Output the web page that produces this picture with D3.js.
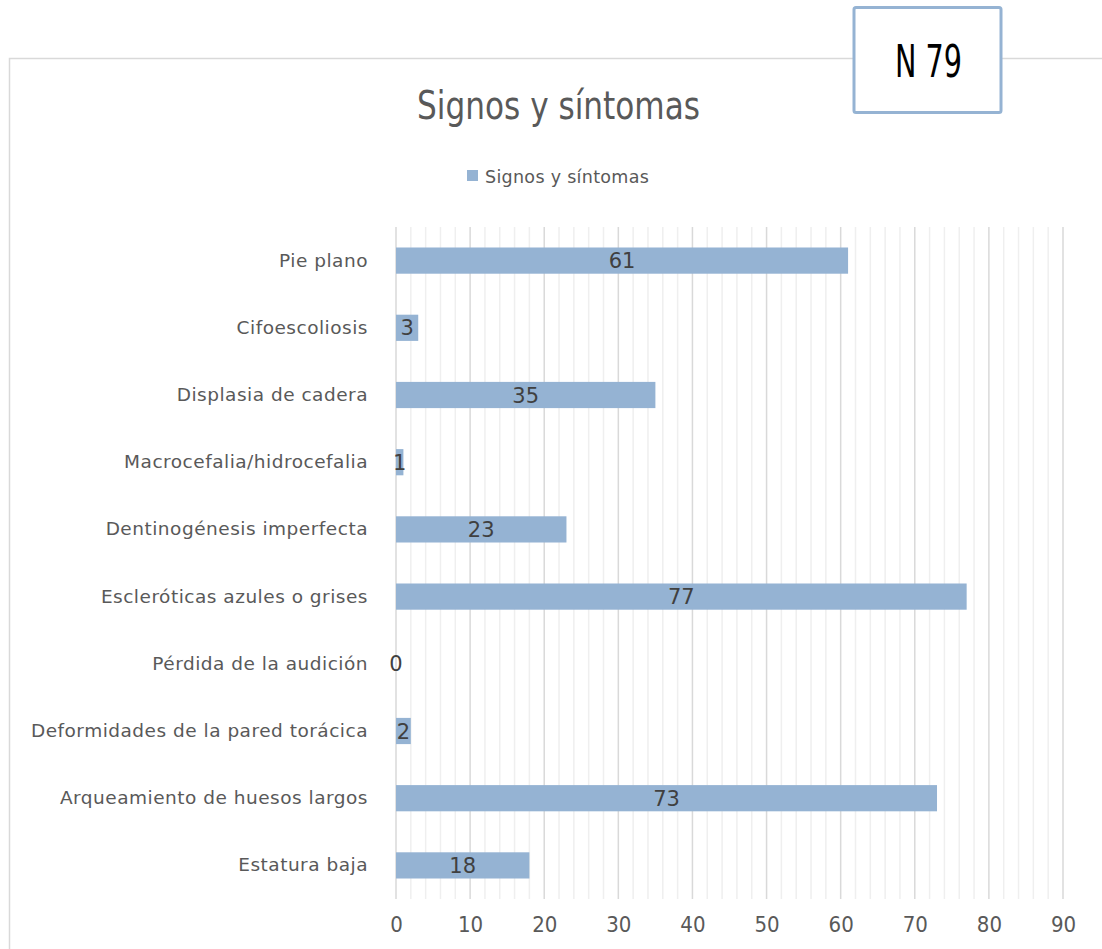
<!DOCTYPE html>
<html>
<head>
<meta charset="utf-8">
<script src="https://cdn.jsdelivr.net/npm/d3@7"></script>
<style>
  html, body { margin: 0; padding: 0; background: #fff; }
  svg { display: block; }
</style>
</head>
<body>
<svg id="chart" width="1102" height="949"></svg>
<script>
// Data: number of patients presenting each sign (N = 79)
const categories = [
  "Pie plano",
  "Cifoescoliosis",
  "Displasia de cadera",
  "Macrocefalia/hidrocefalia",
  "Dentinogénesis imperfecta",
  "Escleróticas azules o grises",
  "Pérdida de la audición",
  "Deformidades de la pared torácica",
  "Arqueamiento de huesos largos",
  "Estatura baja"
];
const values = [61, 3, 35, 1, 23, 77, 0, 2, 73, 18];
const majorTicks = [0, 10, 20, 30, 40, 50, 60, 70, 80, 90];
const minorTicks = d3.range(0, 91, 2).filter(v => v % 10 !== 0);
const seriesName = "Signos y síntomas";
const titleText = "Signos y síntomas";
const sampleText = "N 79";

const svg = d3.select("#chart");
const font = "'DejaVu Sans', sans-serif";
const condensed = "'DejaVu Sans Condensed', 'DejaVu Sans', sans-serif";
const barColor = "#95b3d3";

// chart frame
svg.append("path")
  .attr("d", "M9.5,949 L9.5,58.5 L1102,58.5")
  .attr("fill", "none")
  .attr("stroke", "#d9d9d9")
  .attr("stroke-width", 1.5);

const margin = { left: 396, right: 1063, top: 227, bottom: 899 };

const x = d3.scaleLinear().domain([0, 90]).range([margin.left, margin.right]);
const y = d3.scaleBand().domain(categories).range([margin.top, margin.bottom]).paddingInner(0.61).paddingOuter(0.305);

// minor gridlines
svg.append("g").selectAll("line").data(minorTicks).join("line")
  .attr("x1", d => x(d)).attr("x2", d => x(d))
  .attr("y1", margin.top).attr("y2", margin.bottom)
  .attr("stroke", "#efefef").attr("stroke-width", 1.5);

// major gridlines
svg.append("g").selectAll("line").data(majorTicks).join("line")
  .attr("x1", d => x(d)).attr("x2", d => x(d))
  .attr("y1", margin.top).attr("y2", margin.bottom)
  .attr("stroke", "#d9d9d9").attr("stroke-width", 1.5);

// bars
svg.append("g").selectAll("rect").data(values).join("rect")
  .attr("x", x(0))
  .attr("y", (d, i) => y(categories[i]))
  .attr("width", d => x(d) - x(0))
  .attr("height", y.bandwidth())
  .attr("fill", barColor);

// data labels
svg.append("g").selectAll("text").data(values).join("text")
  .attr("x", d => (x(d) + x(0)) / 2)
  .attr("y", (d, i) => y(categories[i]) + y.bandwidth() / 2)
  .attr("dy", "0.36em")
  .attr("text-anchor", "middle")
  .attr("font-family", font)
  .attr("font-size", 21)
  .attr("fill", "#404040")
  .text(d => d);

// category axis labels
const yAxis = d3.axisLeft(y).tickSize(0).tickPadding(28);
const gy = svg.append("g").attr("transform", `translate(${margin.left},0)`).call(yAxis);
gy.select(".domain").remove();
gy.selectAll("text")
  .attr("font-family", font)
  .attr("font-size", 18.5)
  .attr("letter-spacing", 0.5)
  .attr("fill", "#595959");

// value axis
const xAxis = d3.axisBottom(x).tickValues(majorTicks).tickSize(0).tickPadding(17);
const gx = svg.append("g").attr("transform", `translate(0,${margin.bottom})`).call(xAxis);
gx.select(".domain").remove();
gx.selectAll("text")
  .attr("font-family", condensed)
  .attr("font-size", 22)
  .attr("fill", "#595959");

// title
svg.append("text")
  .attr("x", 417).attr("y", 119)
  .attr("font-family", condensed)
  .attr("font-size", 39)
  .attr("textLength", 283)
  .attr("lengthAdjust", "spacingAndGlyphs")
  .attr("fill", "#595959")
  .text(titleText);

// legend
svg.append("rect")
  .attr("x", 467).attr("y", 170).attr("width", 11).attr("height", 11)
  .attr("fill", barColor);
svg.append("text")
  .attr("x", 485).attr("y", 182.5)
  .attr("font-family", font)
  .attr("font-size", 17.5)
  .attr("letter-spacing", 0.3)
  .attr("fill", "#595959")
  .text(seriesName);

// sample size box
svg.append("rect")
  .attr("x", 854).attr("y", 7.5).attr("width", 147).attr("height", 105)
  .attr("rx", 2)
  .attr("fill", "#fff")
  .attr("stroke", barColor)
  .attr("stroke-width", 3);
svg.append("text")
  .attr("x", 895).attr("y", 77)
  .attr("font-family", condensed)
  .attr("font-size", 45)
  .attr("textLength", 67)
  .attr("lengthAdjust", "spacingAndGlyphs")
  .attr("fill", "#000")
  .text(sampleText);
</script>
</body>
</html>
